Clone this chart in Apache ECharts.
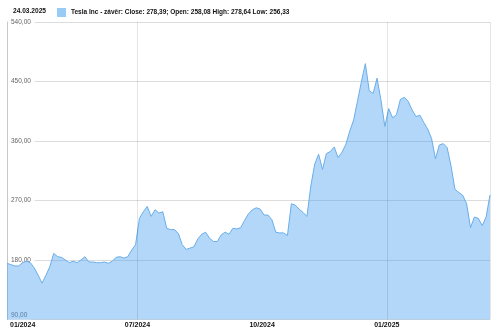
<!DOCTYPE html>
<html>
<head>
<meta charset="utf-8">
<script src="https://cdn.jsdelivr.net/npm/echarts@6/dist/echarts.min.js"></script>
<style>
html,body{margin:0;padding:0;background:#fff;}
#chart{width:500px;height:332px;}
</style>
</head>
<body>
<div id="chart"></div>
<script>
// Header texts
const headerDate = '24.03.2025';
const seriesName = 'Tesla Inc - závěr: Close: 278,39; Open: 258,08 High: 278,64 Low: 256,33';

// Trading-day index step between samples (Mar 2024 – Mar 2025)
const dayStep = 2;
// Closing prices, sampled every 2 trading days
const close = [
  175, 173, 171, 171, 176, 178, 176, 168, 157, 145,
  157, 170, 190, 185, 184, 180, 176, 178, 176, 180,
  185, 177, 177, 176, 176, 177, 175, 178, 184, 185,
  183, 185, 195, 203, 243, 253, 261, 246, 256, 251,
  253, 228, 226, 226, 220, 203, 196, 198, 200, 212,
  219, 222, 213, 208, 208, 218, 222, 219, 228, 227,
  229, 240, 250, 256, 259, 257, 248, 248, 241, 222,
  221, 221, 217, 265, 263, 257, 252, 246, 292, 325,
  340, 317, 341, 344, 351, 335, 343, 355, 375, 392,
  421, 450, 477, 436, 432, 455, 422, 382, 409, 395,
  400, 423, 426, 420, 407, 397, 399, 388, 378, 364,
  333, 354, 356, 350, 322, 287, 282, 278, 265, 229,
  245, 243, 232, 245, 278.39
];

// X-axis tick labels at trading-day indices
const tickIdx = [0, 67, 131, 195];
const tickLabels = ['01/2024', '07/2024', '10/2024', '01/2025'];
const vGridIdx = [67, 195, 248];

// Y axis
const yMin = 90, yMax = 540, yStep = 90;

const seriesData = close.map((v, i) => [i * dayStep, v]);
const lastIdx = (close.length - 1) * dayStep;

const chart = echarts.init(document.getElementById('chart'), null, {renderer: 'canvas'});
const fmt = v => v.toFixed(2).replace('.', ',');

chart.setOption({
  animation: false,
  backgroundColor: '#fff',
  title: {
    text: headerDate,
    left: 13, top: 8, padding: 0,
    textStyle: {fontFamily: 'Liberation Sans', fontSize: 6.6, fontWeight: 'bold', color: '#111'}
  },
  legend: {
    left: 57, top: 8, padding: 0,
    icon: 'rect', itemWidth: 9, itemHeight: 9, itemGap: 4,
    textStyle: {fontFamily: 'Liberation Sans', fontSize: 6.5, fontWeight: 'bold', color: '#111'},
    data: [seriesName]
  },
  grid: {left: 7, right: 10, top: 22, bottom: 12.5, containLabel: false},
  xAxis: {
    type: 'value', min: 0, max: lastIdx,
    axisLine: {show: false},
    axisTick: {show: false},
    splitLine: {show: false},
    axisLabel: {
      customValues: tickIdx,
      formatter: v => {
        const t = tickLabels[tickIdx.indexOf(v)] || '';
        return v === tickIdx[0] ? '{first|' + t + '}' : t;
      },
      rich: {first: {fontFamily: 'Liberation Sans', fontSize: 7, fontWeight: 'bold', color: '#111', padding: [0, 0, 0, 3]}},
      fontFamily: 'Liberation Sans', fontSize: 7, fontWeight: 'bold', color: '#111',
      margin: 2, alignMinLabel: 'left', hideOverlap: false
    }
  },
  yAxis: {
    type: 'value', min: yMin, max: yMax, interval: yStep,
    axisLine: {show: true, lineStyle: {color: '#c8c8c8'}},
    axisTick: {show: false},
    splitLine: {show: true, lineStyle: {color: '#dcdcdc'}},
    axisLabel: {
      inside: true,
      formatter: v => fmt(v),
      fontFamily: 'Liberation Sans', fontSize: 6.5, color: '#666',
      backgroundColor: 'rgba(255,255,255,0.85)',
      padding: [1, 4, 1, 3], margin: 1,
      verticalAlignMinLabel: 'bottom'
    }
  },
  series: [{
    name: seriesName,
    type: 'line',
    data: seriesData,
    symbol: 'none',
    color: '#98cbf5',
    lineStyle: {color: '#6aaee9', width: 1},
    areaStyle: {color: 'rgba(62,156,240,0.57)'},
    markLine: {
      silent: true, symbol: 'none',
      label: {show: false},
      lineStyle: {color: 'rgba(0,0,0,0.1)', width: 1, type: 'solid'},
      data: vGridIdx.map(x => ({xAxis: x}))
    }
  }]
});
</script>
</body>
</html>
